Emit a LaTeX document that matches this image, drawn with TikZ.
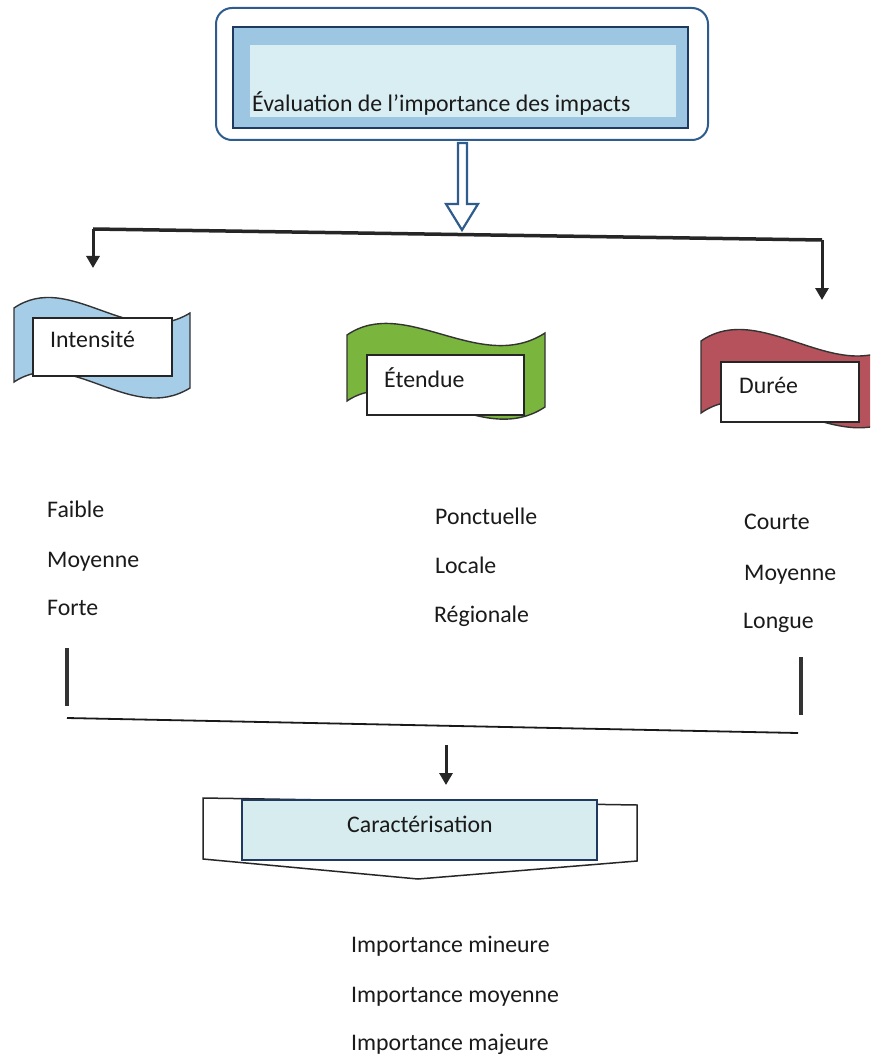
\documentclass[tikz,border=0pt]{standalone}
\usepackage{fontspec}
\setmainfont{Carlito}
\usetikzlibrary{arrows.meta}
\definecolor{txt}{HTML}{1A1A1A}
\definecolor{outerblue}{HTML}{2E5C8C}
\definecolor{navy}{HTML}{1F3A60}
\definecolor{band}{HTML}{9DC6E2}
\definecolor{paleblue}{HTML}{D9EEF2}
\definecolor{flagblue}{HTML}{A6CDE8}
\definecolor{flaggreen}{HTML}{7AB53E}
\definecolor{flagred}{HTML}{B5525B}
\definecolor{caracfill}{HTML}{D6ECEF}
\tikzset{
  lbl/.style={anchor=base west, inner sep=0pt, text=txt, font=\fontsize{23.8}{28}\selectfont},
  flag/.style={draw=black!80, line width=1.4pt},
  tagbox/.style={draw=black!85, fill=white, line width=1.6pt, inner sep=0pt},
  arr/.style={line width=3pt, draw=black!85, -{Triangle[width=13pt,length=12pt]}},
  bar/.style={line width=3.2pt, draw=black!80},
}
\begin{document}
\begin{tikzpicture}[x=1pt,y=-1pt]
\clip (0,0) rectangle (870,1056);
\fill[white] (0,0) rectangle (870,1056);

% --- top box ---
\draw[rounded corners=16pt, line width=2pt, draw=outerblue] (216,8) rectangle (708,140);
\node[draw=navy, fill=band, line width=2.5pt, minimum width=455pt, minimum height=101pt, inner sep=0pt] (evalbox) at (460.5,77.5) {};
\fill[paleblue] (250,45) rectangle (676,117);
\node[lbl] (evaltxt) at (252,112) {Évaluation de l’importance des impacts};

% --- hollow double arrow ---
\draw[draw=outerblue, fill=white, line width=2.2pt, line join=miter]
  (458,143) -- (458,204) -- (446,204) -- (462,230) -- (478,204) -- (467,204) -- (467,143) -- cycle;

% --- branch line and arrows ---
\coordinate (jl) at (93,229);
\coordinate (jr) at (822,240);
\coordinate (tl) at (93,268);
\coordinate (tr) at (822,300);
\draw[line width=3.5pt, draw=black!85] (jl) -- (jr);
\draw[arr] (jl) -- (tl);
\draw[arr] (jr) -- (tr);

% --- flags ---
\draw[flag, fill=flagblue] (14,308) .. controls (70,270) and (130,350) .. (190,313) -- (190,388) .. controls (130,425) and (70,345) .. (14,382) -- cycle;
\node[tagbox, minimum width=139pt, minimum height=58pt] (intens) at (102.5,347) {};
\node[lbl] at (50,347) {Intensité};

\draw[flag, fill=flaggreen] (347,335) .. controls (405,295) and (480,375) .. (545,333) -- (545,407) .. controls (480,450) and (405,362) .. (347,401) -- cycle;
\node[tagbox, minimum width=157pt, minimum height=60pt] (etend) at (445.5,385) {};
\node[lbl] at (384,387) {Étendue};

\draw[flag, fill=flagred] (701,341) .. controls (760,300) and (835,385) .. (895,345) -- (895,418) .. controls (835,455) and (760,372) .. (701,413) -- cycle;
\node[tagbox, minimum width=138pt, minimum height=60pt] (duree) at (790,392) {};
\node[lbl] at (739,393) {Durée};

% --- lists ---
\node[lbl] (a1) at (47,517) {Faible};
\node[lbl] (a2) at (47,567) {Moyenne};
\node[lbl] (a3) at (47,615) {Forte};
\node[lbl] (b1) at (435,524) {Ponctuelle};
\node[lbl] (b2) at (435,573) {Locale};
\node[lbl] (b3) at (434,622) {Régionale};
\node[lbl] (c1) at (744,529) {Courte};
\node[lbl] (c2) at (744,580) {Moyenne};
\node[lbl] (c3) at (743,628) {Longue};

% --- bars and merge line ---
\coordinate (bl1) at (67,648);
\coordinate (bl2) at (67,706);
\coordinate (br1) at (801,657);
\coordinate (br2) at (801,715);
\draw[bar] (bl1) -- (bl2);
\draw[bar] (br1) -- (br2);
\coordinate (ml) at (67,718);
\coordinate (mr) at (798,733);
\draw[line width=1.8pt, draw=black!90] (ml) -- (mr);
\coordinate (ma) at (446,745);
\coordinate (mb) at (446,785);
\draw[arr] (ma) -- (mb);

% --- caracterisation ---
\draw[line width=1.5pt, draw=black!85, fill=white] (203,798) -- (637,805) -- (637,861) -- (418,879) -- (203,859) -- cycle;
\node[draw=navy, fill=caracfill, line width=1.6pt, minimum width=355pt, minimum height=60pt, inner sep=0pt] (carac) at (419.5,830) {};
\node[lbl] at (347,832) {Caractérisation};

% --- results ---
\node[lbl] (r1) at (351,952) {Importance mineure};
\node[lbl] (r2) at (351,1002) {Importance moyenne};
\node[lbl] (r3) at (351,1050) {Importance majeure};
\end{tikzpicture}
\end{document}
